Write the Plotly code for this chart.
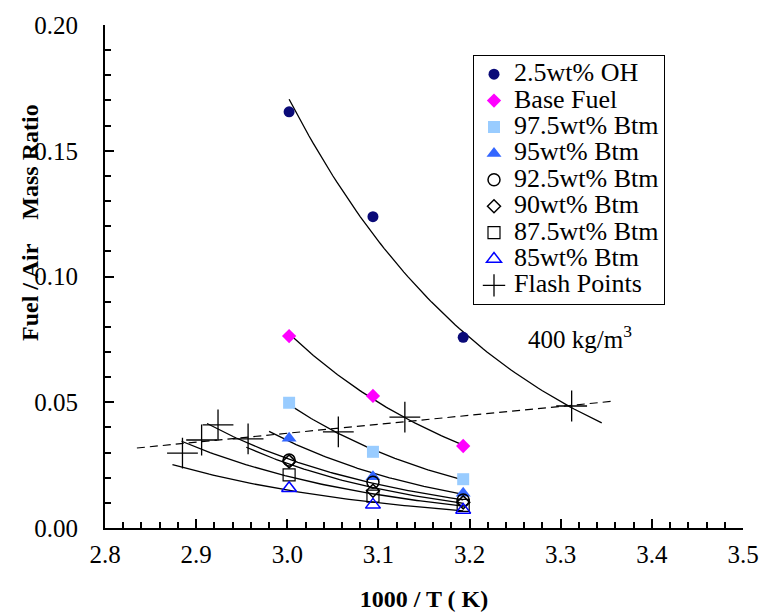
import numpy as np
import plotly.graph_objects as go

# ---------------- data ----------------
x_T = [3.002, 3.094, 3.193]          # 1000/T at 60, 50, 40 C

series_names = ["2.5wt% OH", "Base Fuel", "97.5wt% Btm", "95wt% Btm",
                "92.5wt% Btm", "90wt% Btm", "87.5wt% Btm", "85wt% Btm"]
oh_vals    = [0.1655, 0.1238, 0.0758]
base_vals  = [0.0763, 0.0525, 0.0326]
b975_vals  = [0.0498, 0.0303, 0.0194]
b95_vals   = [0.0357, 0.0204, 0.0138]
b925_vals  = [0.0270, 0.0182, 0.0111]
b90_vals   = [0.0265, 0.0148, 0.0102]
b875_vals  = [0.0211, 0.0127, 0.0090]
b85_vals   = [0.0158, 0.0092, 0.0072]
all_vals = [oh_vals, base_vals, b975_vals, b95_vals, b925_vals, b90_vals, b875_vals, b85_vals]

# extent of each exponential trend curve (1000/T)
curve_start = [3.002, 3.002, 3.002, 2.980, 2.912, 2.955, 2.884, 2.874]
curve_end   = [3.345, 3.193, 3.193, 3.193, 3.193, 3.193, 3.193, 3.193]

flash_x = [2.885, 2.906, 2.924, 2.957, 3.056, 3.129, 3.312]
flash_y = [0.0298, 0.0350, 0.0410, 0.0354, 0.0382, 0.0441, 0.0485]

trend_x = [2.835, 3.360]
trend_y = [0.0318, 0.0505]

# ---------------- styles ----------------
styles = [
    dict(symbol="circle", size=11, color="#0A0A78", line=dict(width=0)),
    dict(symbol="diamond", size=11, color="#FF00FF", line=dict(width=0)),
    dict(symbol="square", size=12, color="#99CCFF", line=dict(width=0)),
    dict(symbol="triangle-up", size=13, color="#3366FF", line=dict(width=0)),
    dict(symbol="circle-open", size=12, color="black", line=dict(width=1.5)),
    dict(symbol="diamond-open", size=10, color="black", line=dict(width=1.5)),
    dict(symbol="square-open", size=12, color="black", line=dict(width=1.2)),
    dict(symbol="triangle-up-open", size=13, color="#0000FF", line=dict(width=1.5)),
]

FONT = "Times New Roman, Liberation Serif, DejaVu Serif, serif"
L, R, T, B = 105, 18, 25, 86
W, H = 761, 614
PW, PH = W - L - R, H - T - B

fig = go.Figure()

# trend curves (exponential fits of each series)
for vals, xs, xe in zip(all_vals, curve_start, curve_end):
    b, a = np.polyfit(x_T, np.log(vals), 1)
    xx = np.linspace(xs, xe, 80)
    fig.add_trace(go.Scatter(x=xx, y=np.exp(a + b * xx), mode="lines",
                             line=dict(color="black", width=1.3),
                             showlegend=False, hoverinfo="skip"))

# flash-point trend (dashed)
fig.add_trace(go.Scatter(x=trend_x, y=trend_y, mode="lines",
                         line=dict(color="black", width=1.2, dash="8px,5px"),
                         showlegend=False, hoverinfo="skip"))

# data markers
big = '<span style="font-size:26px">{}</span>'
for name, vals, st in zip(series_names, all_vals, styles):
    fig.add_trace(go.Scatter(x=x_T, y=vals, mode="markers", name=big.format(name),
                             marker=st))

fig.add_trace(go.Scatter(x=flash_x, y=flash_y, mode="markers",
                         name=big.format("Flash Points"),
                         marker=dict(symbol="cross-thin", size=22, color="black",
                                     line=dict(width=1.3, color="black"))))

fig.add_annotation(x=3.262, y=0.076, xref="x", yref="y", xanchor="left",
                   text="400 kg/m<sup>3</sup>", showarrow=False,
                   font=dict(family=FONT, size=25, color="black"))

fig.add_annotation(x=(30 - L) / PW, y=(H - B - 223) / PH, xref="paper", yref="paper",
                   xanchor="center", yanchor="middle",
                   text="<b>Fuel / Air\u00a0\u00a0\u00a0\u00a0Mass Ratio</b>",
                   textangle=-90, showarrow=False,
                   font=dict(family=FONT, size=24, color="black"))

fig.update_layout(
    width=W, height=H,
    margin=dict(l=L, r=R, t=T, b=B, autoexpand=False),
    paper_bgcolor="white", plot_bgcolor="white",
    font=dict(family=FONT, size=25, color="black"),
    legend=dict(x=(473 - L) / PW, y=(H - B - 55) / PH, xanchor="left", yanchor="top",
                bgcolor="white", bordercolor="black", borderwidth=1,
                font=dict(family=FONT, size=18, color="black"),
                tracegroupgap=0, itemsizing="trace"),
    showlegend=True,
)

fig.update_xaxes(range=[2.8, 3.5], tick0=2.8, dtick=0.1, tickformat=".1f",
                 automargin=False, tickfont=dict(family=FONT, size=25),
                 ticklabeloverflow="allow",
                 showgrid=False, zeroline=False, showline=True,
                 linecolor="black", linewidth=2, ticks="inside",
                 ticklen=9, tickwidth=2, tickcolor="black",
                 minor=dict(tick0=2.8, dtick=0.02, ticks="inside", ticklen=6, tickwidth=2,
                            tickcolor="black", showgrid=False),
                 ticklabelstandoff=3,
                 title=dict(text="<b>1000 / T ( K)</b>", standoff=23,
                            font=dict(family=FONT, size=24)))
fig.update_yaxes(range=[0, 0.2], tick0=0, dtick=0.05, tickformat=".2f",
                 automargin=False, tickfont=dict(family=FONT, size=25),
                 ticklabeloverflow="allow",
                 showgrid=False, zeroline=False, showline=True,
                 linecolor="black", linewidth=2, ticks="inside",
                 ticklen=9, tickwidth=2, tickcolor="black",
                 minor=dict(tick0=0, dtick=0.01, ticks="inside", ticklen=6, tickwidth=2,
                            tickcolor="black", showgrid=False),
                 ticklabelstandoff=20)

fig.write_html("out.html", config={"displayModeBar": False},
               post_script="document.body.style.margin='0';")
